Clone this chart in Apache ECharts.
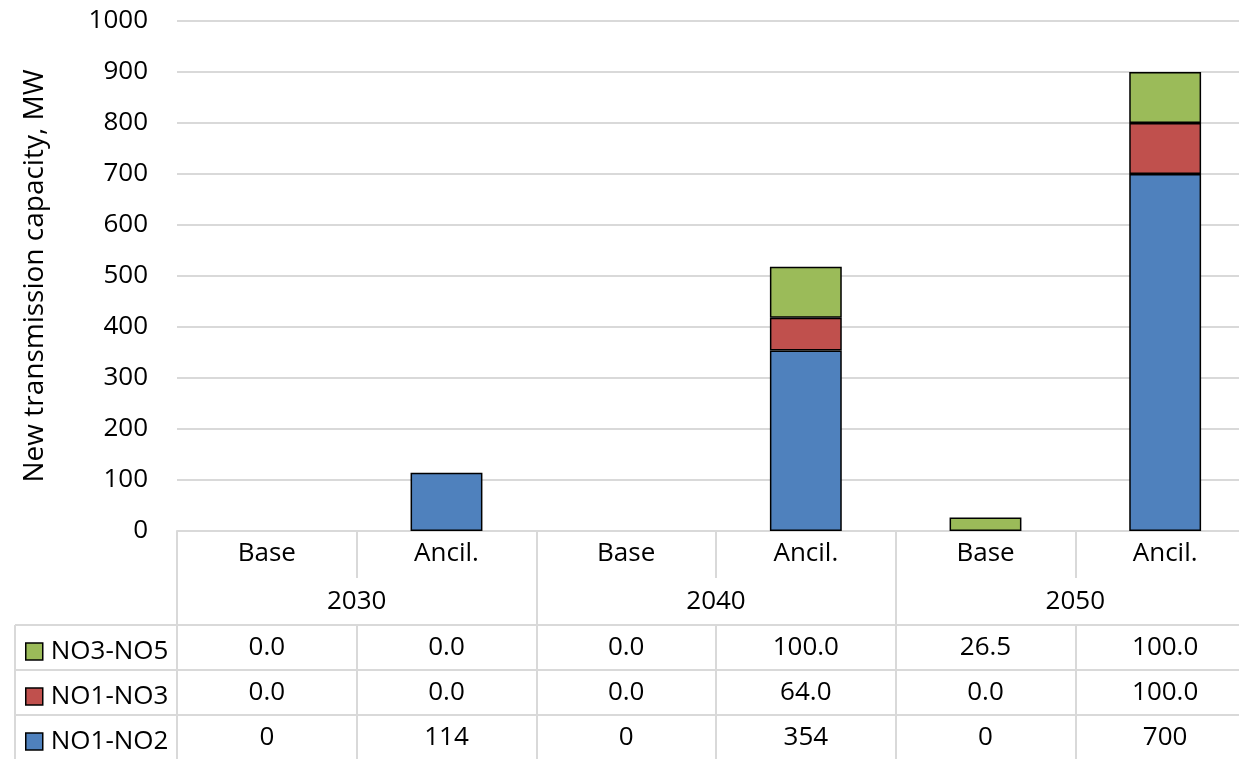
<!DOCTYPE html>
<html>
<head>
<meta charset="utf-8">
<title>New transmission capacity</title>
<script src="https://cdn.jsdelivr.net/npm/echarts@6/dist/echarts.min.js"></script>
<style>
  html, body { margin: 0; padding: 0; background: #ffffff; }
  #chart { width: 1239px; height: 759px; }
</style>
</head>
<body>
<div id="chart"></div>
<script>
// Scenario columns (two per year) and the year groups beneath them
const categories = ['Base', 'Ancil.', 'Base', 'Ancil.', 'Base', 'Ancil.'];
const years = ['2030', '2040', '2050'];

// New transmission capacity per corridor, MW
const no1no2 = [0, 114, 0, 354, 0, 700];
const no1no3 = [0, 0, 0, 64, 0, 100];
const no3no5 = [0, 0, 0, 100, 26.5, 100];

// Value axis range
const yMin = 0;
const yMax = 1000;
const yStep = 100;

const FONT = '"Open Sans", "Liberation Sans", sans-serif';
const FS = 26;
const GRID_LINE = '#D9D9D9';
const COLORS = { blue: '#4F81BD', red: '#C0504D', green: '#9BBB59' };

// Layout of the plot and the data table under it
const gridLeft = 177, gridRight = -16, gridTop = 21, gridBottom = 228;
const catRowH = 47, yearRowH = 47, dataRowH = 45;
const tableLeft = 15;

const chart = echarts.init(document.getElementById('chart'), null, { renderer: 'canvas' });

const emptyZero = arr => arr.map(v => (v === 0 ? null : v));
const fmt1 = v => v.toFixed(1);
const fmt0 = v => v.toFixed(0);

// One bottom-side category axis per table row; its labels hold the cell text
function tableAxis(cells, offset) {
  return {
    type: 'category',
    gridIndex: 0,
    position: 'bottom',
    offset: offset,
    data: cells,
    axisLine: { show: true, lineStyle: { color: GRID_LINE, width: 2 } },
    axisTick: { show: true, interval: 0, length: dataRowH, lineStyle: { color: GRID_LINE, width: 2 } },
    axisLabel: {
      interval: 0, margin: 23, verticalAlign: 'middle',
      fontFamily: FONT, fontSize: FS, color: '#000'
    },
    splitLine: { show: false }
  };
}

function barSeries(name, values, color) {
  return {
    name: name,
    type: 'bar',
    stack: 'capacity',
    xAxisIndex: 0,
    barWidth: '40%',
    data: emptyZero(values),
    itemStyle: { color: color, borderColor: '#000', borderWidth: 1.5 },
    emphasis: { disabled: true }
  };
}

const tableTop = 759 - gridBottom;   // y of the category axis
const rowLinesY = [0, 1, 2].map(i => tableTop + catRowH + yearRowH + i * dataRowH);

// Row keys of the data table, top to bottom
const tableRows = ['NO3-NO5', 'NO1-NO3', 'NO1-NO2'];

const option = {
  animation: false,
  backgroundColor: '#ffffff',
  textStyle: { fontFamily: FONT },
  grid: {
    left: gridLeft, right: gridRight, top: gridTop, bottom: gridBottom,
    containLabel: false, outerBoundsMode: 'none'
  },
  legend: tableRows.map((name, i) => ({
    orient: 'vertical',
    left: tableLeft + 10,
    top: rowLinesY[i] + dataRowH / 2 - 9,
    itemWidth: 17,
    itemHeight: 17,
    icon: 'rect',
    data: [name],
    itemStyle: { borderColor: '#000', borderWidth: 1.5 },
    textStyle: { fontFamily: FONT, fontSize: FS, color: '#000', padding: [0, 0, 0, 3] },
    selectedMode: false,
    padding: 0
  })),
  xAxis: [
    {
      type: 'category',
      gridIndex: 0,
      position: 'bottom',
      data: categories,
      axisLine: { show: true, lineStyle: { color: GRID_LINE, width: 2 } },
      axisTick: { show: true, interval: 0, length: catRowH, lineStyle: { color: GRID_LINE, width: 2 } },
      axisLabel: {
        interval: 0, margin: 23, verticalAlign: 'middle',
        fontFamily: FONT, fontSize: FS, color: '#000'
      },
      splitLine: { show: false }
    },
    {
      type: 'category',
      gridIndex: 0,
      position: 'bottom',
      offset: catRowH,
      data: years,
      axisLine: { show: false },
      axisTick: { show: true, interval: 0, length: yearRowH, lineStyle: { color: GRID_LINE, width: 2 } },
      axisLabel: {
        interval: 0, margin: 24, verticalAlign: 'middle',
        fontFamily: FONT, fontSize: FS, color: '#000'
      },
      splitLine: { show: false }
    },
    tableAxis(no3no5.map(fmt1), catRowH + yearRowH),
    tableAxis(no1no3.map(fmt1), catRowH + yearRowH + dataRowH),
    tableAxis(no1no2.map(fmt0), catRowH + yearRowH + 2 * dataRowH)
  ],
  yAxis: {
    type: 'value',
    min: yMin,
    max: yMax,
    interval: yStep,
    name: 'New transmission capacity, MW',
    nameLocation: 'middle',
    nameGap: 128,
    nameTextStyle: { fontFamily: FONT, fontSize: 28, color: '#000' },
    axisLine: { show: false },
    axisTick: { show: false },
    axisLabel: {
      margin: 29, fontFamily: FONT, fontSize: FS, color: '#000',
      formatter: v => String(v)
    },
    splitLine: { show: true, lineStyle: { color: GRID_LINE, width: 2 } }
  },
  series: [
    barSeries('NO1-NO2', no1no2, COLORS.blue),
    barSeries('NO1-NO3', no1no3, COLORS.red),
    barSeries('NO3-NO5', no3no5, COLORS.green)
  ],
  graphic: [
    // left part of the table: row rules and outer border around the legend keys
    ...rowLinesY.map(y => ({
      type: 'line',
      shape: { x1: tableLeft, y1: y, x2: gridLeft, y2: y },
      style: { stroke: GRID_LINE, lineWidth: 2 },
      silent: true
    })),
    {
      type: 'line',
      shape: { x1: tableLeft, y1: rowLinesY[0], x2: tableLeft, y2: 759 },
      style: { stroke: GRID_LINE, lineWidth: 2 },
      silent: true
    }
  ]
};

chart.setOption(option);
</script>
</body>
</html>
